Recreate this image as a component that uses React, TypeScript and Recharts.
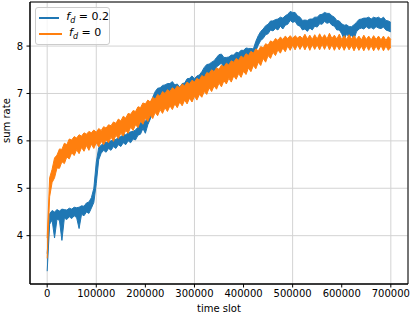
import { Area, CartesianGrid, ComposedChart, ReferenceArea, XAxis, YAxis } from "recharts";

// one sample every 5000 time slots, 0 .. 700000
const SAMPLE_STEP = 5000;

// f_d = 0.2 (blue): lower / upper edge of the noisy trace
const fd02Low = [
  3.25, 4.24, 4.33, 3.95, 4.35, 4.32, 3.9, 4.37, 4.34, 4.4,
  4.36, 4.42, 4.38, 4.15, 4.45, 4.42, 4.5, 4.47, 4.58, 4.7,
  5.1, 5.6, 5.74, 5.8, 5.76, 5.84, 5.8, 5.88, 5.84, 5.92,
  5.88, 5.96, 5.92, 6.0, 5.96, 6.04, 6.02, 6.12, 6.14, 6.26,
  6.16, 6.34, 6.46, 6.68, 6.84, 6.92, 6.9, 6.98, 6.96, 7.02,
  6.98, 7.05, 6.98, 7.02, 6.92, 7.02, 7.02, 7.12, 7.1, 7.16,
  7.08, 7.16, 7.16, 7.26, 7.34, 7.42, 7.4, 7.47, 7.46, 7.56,
  7.6, 7.64, 7.54, 7.58, 7.54, 7.62, 7.58, 7.66, 7.64, 7.72,
  7.68, 7.76, 7.72, 7.76, 7.7, 7.9, 8.02, 8.12, 8.16, 8.24,
  8.26, 8.34, 8.32, 8.37, 8.34, 8.42, 8.36, 8.44, 8.46, 8.54,
  8.5, 8.52, 8.44, 8.42, 8.34, 8.36, 8.31, 8.38, 8.34, 8.42,
  8.4, 8.47, 8.46, 8.52, 8.48, 8.5, 8.44, 8.42, 8.34, 8.34,
  8.26, 8.14, 8.26, 8.18, 8.23, 8.14, 8.3, 8.36, 8.38, 8.36,
  8.41, 8.37, 8.39, 8.36, 8.41, 8.38, 8.37, 8.4, 8.34, 8.32,
  8.3,
];
const fd02High = [
  3.62, 4.46, 4.53, 4.5, 4.55, 4.52, 4.56, 4.55, 4.54, 4.58,
  4.56, 4.6, 4.59, 4.6, 4.63, 4.62, 4.69, 4.71, 4.8, 5.0,
  5.55, 5.86, 5.91, 5.95, 5.97, 5.98, 6.0, 6.02, 6.03, 6.07,
  6.09, 6.13, 6.13, 6.17, 6.19, 6.2, 6.23, 6.29, 6.38, 6.46,
  6.4, 6.56, 6.72, 6.92, 7.04, 7.11, 7.12, 7.17, 7.18, 7.21,
  7.21, 7.25, 7.18, 7.2, 7.13, 7.21, 7.22, 7.31, 7.32, 7.37,
  7.31, 7.37, 7.39, 7.46, 7.55, 7.61, 7.62, 7.66, 7.69, 7.76,
  7.82, 7.83, 7.76, 7.76, 7.77, 7.81, 7.81, 7.87, 7.86, 7.91,
  7.91, 7.96, 7.95, 7.95, 7.94, 8.1, 8.22, 8.31, 8.36, 8.43,
  8.46, 8.53, 8.53, 8.56, 8.57, 8.61, 8.59, 8.64, 8.67, 8.73,
  8.71, 8.71, 8.64, 8.61, 8.54, 8.55, 8.54, 8.57, 8.57, 8.61,
  8.61, 8.66, 8.67, 8.71, 8.69, 8.69, 8.64, 8.61, 8.54, 8.53,
  8.47, 8.44, 8.45, 8.41, 8.41, 8.45, 8.5, 8.56, 8.57, 8.59,
  8.59, 8.61, 8.57, 8.61, 8.59, 8.61, 8.57, 8.61, 8.54, 8.53,
  8.5,
];

// f_d = 0 (orange): lower / upper edge of the noisy trace
const fd0Low = [
  3.52, 4.82, 5.12, 5.22, 5.43, 5.42, 5.56, 5.52, 5.66, 5.62,
  5.75, 5.69, 5.81, 5.73, 5.86, 5.78, 5.9, 5.8, 5.93, 5.84,
  5.96, 5.87, 5.99, 5.92, 6.02, 5.96, 6.08, 5.99, 6.12, 6.05,
  6.16, 6.1, 6.22, 6.16, 6.29, 6.22, 6.34, 6.28, 6.42, 6.35,
  6.48, 6.41, 6.54, 6.47, 6.6, 6.53, 6.66, 6.58, 6.7, 6.62,
  6.74, 6.66, 6.78, 6.7, 6.82, 6.74, 6.86, 6.78, 6.9, 6.82,
  6.94, 6.86, 6.98, 6.92, 7.04, 6.98, 7.12, 7.04, 7.16, 7.09,
  7.22, 7.14, 7.27, 7.2, 7.32, 7.24, 7.37, 7.3, 7.42, 7.34,
  7.47, 7.4, 7.54, 7.46, 7.59, 7.52, 7.66, 7.59, 7.74, 7.66,
  7.8, 7.74, 7.87, 7.8, 7.92, 7.85, 7.96, 7.88, 8.0, 7.91,
  8.02, 7.92, 8.03, 7.93, 8.03, 7.92, 8.03, 7.91, 8.03, 7.93,
  8.03, 7.92, 8.04, 7.93, 8.05, 7.92, 8.03, 7.91, 8.02, 7.92,
  8.02, 7.91, 8.02, 7.92, 8.01, 7.9, 8.01, 7.91, 8.0, 7.9,
  8.01, 7.91, 8.01, 7.9, 8.0, 7.91, 8.01, 7.9, 8.0, 7.91,
  7.98,
];
const fd0High = [
  3.95, 5.22, 5.4, 5.64, 5.7, 5.83, 5.82, 5.95, 5.92, 6.04,
  6.02, 6.09, 6.06, 6.13, 6.1, 6.17, 6.14, 6.2, 6.17, 6.23,
  6.18, 6.26, 6.22, 6.3, 6.27, 6.34, 6.32, 6.4, 6.37, 6.46,
  6.42, 6.52, 6.48, 6.58, 6.56, 6.64, 6.62, 6.72, 6.7, 6.8,
  6.78, 6.86, 6.82, 6.92, 6.88, 6.98, 6.94, 7.04, 7.0, 7.08,
  7.04, 7.12, 7.08, 7.16, 7.12, 7.2, 7.16, 7.24, 7.2, 7.28,
  7.24, 7.32, 7.28, 7.38, 7.34, 7.44, 7.42, 7.5, 7.46, 7.54,
  7.51, 7.6, 7.56, 7.64, 7.6, 7.69, 7.66, 7.74, 7.7, 7.79,
  7.75, 7.84, 7.8, 7.89, 7.85, 7.94, 7.9, 7.99, 7.96, 8.05,
  8.02, 8.11, 8.08, 8.16, 8.12, 8.19, 8.14, 8.21, 8.16, 8.22,
  8.16, 8.22, 8.17, 8.21, 8.16, 8.25, 8.15, 8.23, 8.14, 8.24,
  8.15, 8.26, 8.16, 8.24, 8.15, 8.27, 8.16, 8.23, 8.15, 8.25,
  8.14, 8.22, 8.14, 8.24, 8.15, 8.22, 8.14, 8.21, 8.13, 8.23,
  8.14, 8.21, 8.13, 8.22, 8.14, 8.21, 8.13, 8.21, 8.12, 8.2,
  8.14,
];

const xTicks = [0, 100000, 200000, 300000, 400000, 500000, 600000, 700000];
const yTicks = [4, 5, 6, 7, 8];

const X_DOMAIN: [number, number] = [-35000, 735000];
const Y_DOMAIN: [number, number] = [2.98, 8.93];

const BLUE = "#1f77b4";
const ORANGE = "#ff7f0e";
const FONT = "'DejaVu Sans', sans-serif";

const data = fd02Low.map((lo, i) => ({
  slot: i * SAMPLE_STEP,
  fd02: [lo, fd02High[i]],
  fd0: [fd0Low[i], fd0High[i]],
}));

function LegendRow({ color, value }: { color: string; value: string }) {
  return (
    <div style={{ display: "flex", alignItems: "center", height: 16 }}>
      <span style={{ display: "inline-block", width: 23, height: 2, background: color, marginRight: 7 }} />
      <span style={{ fontSize: 11, whiteSpace: "nowrap" }}>
        <i>f</i>
        <sub style={{ fontSize: 8, fontStyle: "italic" }}>d</sub>
        {" = " + value}
      </span>
    </div>
  );
}

export default function App() {
  return (
    <div
      style={{
        position: "absolute",
        left: 0,
        top: 0,
        width: 412,
        height: 314,
        background: "#fff",
        fontFamily: FONT,
      }}
    >
      <ComposedChart width={412} height={314} data={data} margin={{ top: 2, right: 4, bottom: 0, left: 0 }}>
        <CartesianGrid stroke="#d3d3d3" strokeWidth={1} />
        <XAxis
          dataKey="slot"
          type="number"
          domain={X_DOMAIN}
          ticks={xTicks}
          allowDataOverflow
          height={30}
          stroke="#000"
          tickSize={3.5}
          tickMargin={2}
          tick={{ fontSize: 10, fill: "#000", fontFamily: FONT }}
          label={{ value: "time slot", position: "insideBottom", offset: 2, fontSize: 10, fill: "#000", fontFamily: FONT }}
        />
        <YAxis
          type="number"
          domain={Y_DOMAIN}
          ticks={yTicks}
          allowDataOverflow
          width={30}
          stroke="#000"
          tickSize={3.5}
          tickMargin={3.5}
          tick={{ fontSize: 10, fill: "#000", fontFamily: FONT }}
          label={{ value: "sum rate", angle: -90, position: "insideLeft", offset: 6, fontSize: 10, fill: "#000", fontFamily: FONT }}
        />
        <ReferenceArea
          x1={X_DOMAIN[0]}
          x2={X_DOMAIN[1]}
          y1={Y_DOMAIN[0]}
          y2={Y_DOMAIN[1]}
          fill="none"
          fillOpacity={0}
          stroke="#000"
          strokeWidth={1}
          ifOverflow="visible"
        />
        <Area
          type="linear"
          dataKey="fd02"
          stroke={BLUE}
          strokeWidth={1}
          fill={BLUE}
          fillOpacity={1}
          dot={false}
          activeDot={false}
          isAnimationActive={false}
        />
        <Area
          type="linear"
          dataKey="fd0"
          stroke={ORANGE}
          strokeWidth={1}
          fill={ORANGE}
          fillOpacity={1}
          dot={false}
          activeDot={false}
          isAnimationActive={false}
        />
      </ComposedChart>
      <div
        style={{
          position: "absolute",
          left: 35,
          top: 7,
          width: 70,
          padding: "2px 0 2px 3px",
          border: "1px solid #cccccc",
          borderRadius: 3,
          background: "rgba(255,255,255,0.8)",
          color: "#000",
        }}
      >
        <LegendRow color={BLUE} value="0.2" />
        <LegendRow color={ORANGE} value="0" />
      </div>
    </div>
  );
}
